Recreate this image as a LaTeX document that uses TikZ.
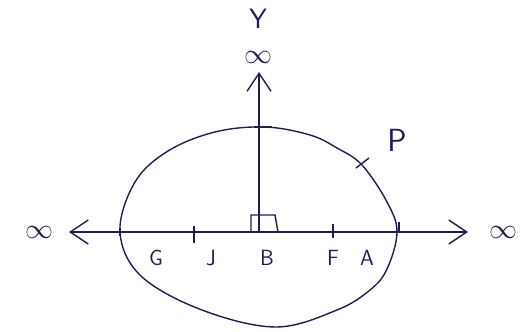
\RequirePackage{fix-cm}
\documentclass[tikz,border=0pt]{standalone}
\usepackage{amsmath,amssymb}
\usepackage{tikz}
\usetikzlibrary{arrows.meta}
\usepackage{xcolor}
\definecolor{ink}{HTML}{1E1E52}

\begin{document}
\begin{tikzpicture}[x=1pt,y=-1pt,line width=1.4pt,ink,
    axis/.style={-{Straight Barb[length=18pt,width=24pt,line width=1.4pt]}},
    lbl/.style={font=\fontsize{22}{22}\sffamily,inner sep=0pt},
    inf/.style={font=\fontsize{28}{28}\selectfont,inner sep=0pt}]
        \useasboundingbox (0,0) rectangle (528,332);
        % axes
        \coordinate (B) at (259,232);
        \coordinate (W) at (69,232);
        \coordinate (E) at (468,232);
        \coordinate (N) at (259,72);
        \draw[axis] (B)--(W);
        \draw[axis] (B)--(E);
        \draw[axis] (B)--(N);
        % closed curve
        \draw plot[smooth cycle,tension=0.6] coordinates {(120,232) (135,182) (168,151) (215,132)
          (265,127) (310,135) (337,148) (362,165) (387,202) (397,232) (387,269) (370,290)
          (337,310) (276,327) (202,310) (141,276)};
        % ticks
        \draw (194,226)--(194,243);
        \draw (333,224)--(333,238);
        \draw (399,222)--(399,232);
        \draw (120,228)--(120,236);
        \draw (254,127)--(272,127);
        \draw (356,168)--(369,158);
        \draw (251,232)--(251,215)--(275,215)--(278,232);
        % labels
        \node[inf] (infW) at (39,232){$\infty$};
        \node[inf] (infE) at (503,232){$\infty$};
        \node[inf] (infN) at (258,57){$\infty$};
        \node[lbl,font=\fontsize{28}{28}\sffamily] (Y) at (258,19){Y};
        \node[lbl,font=\fontsize{32}{32}\sffamily] (P) at (397,140){P};
        \node[lbl] (G) at (156,258){G};
        \node[lbl] (J) at (211,258){J};
        \node[lbl] (Bl) at (267,258){B};
        \node[lbl] (F) at (333,258){F};
        \node[lbl] (A) at (367,258){A};
      \end{tikzpicture}
\end{document}
